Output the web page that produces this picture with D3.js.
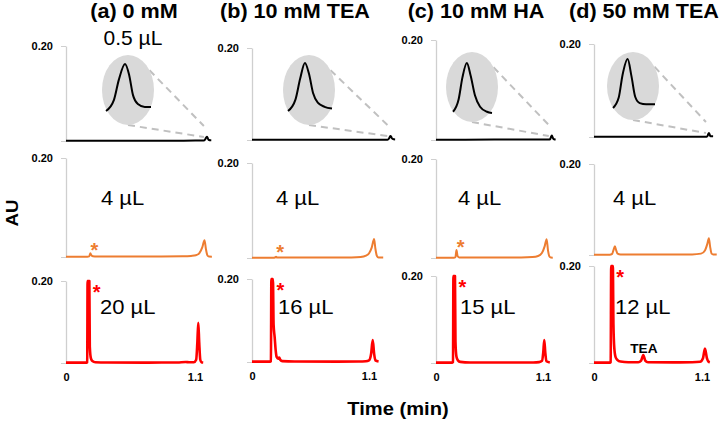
<!DOCTYPE html>
<meta charset="utf-8">
<script src="https://d3js.org/d3.v7.min.js"></script>
<style>
  body { margin: 0; background: #fff; }
  text { font-family: "Liberation Sans", Arial, sans-serif; }
</style>
<div id="chart"></div>
<script>

// ---- data (time in min, absorbance in AU) ----
var titles = ["(a) 0 mM", "(b) 10 mM TEA", "(c) 10 mM HA", "(d) 50 mM TEA"];
var topVolume = "0.5 µL";
var midVolumes = ["4 µL", "4 µL", "4 µL", "4 µL"];
var botVolumes = ["20 µL", "16 µL", "15 µL", "12 µL"];
var yTicks = [0, 0.20];
var xTicks = [0, 1.1];

// row 1: 0.5 uL injections (black)
var topA = [[0,0.0006],[0.3,0.0006],[0.6,0.0007],[0.9,0.0007],[1.1,0.0008],[1.17,0.0008],[1.1815,0.0027],[1.1885,0.0061],[1.1975,0.0088],[1.2035,0.0069],[1.209,0.0035],[1.216,0.002],[1.226,0.0015],[1.235,0.0015]];
var topB = [[0,0.0006],[0.3,0.0006],[0.6,0.0007],[0.9,0.0007],[1.1,0.0008],[1.165,0.0008],[1.176,0.0027],[1.183,0.0062],[1.19,0.0088],[1.196,0.007],[1.202,0.0038],[1.209,0.0022],[1.219,0.0015],[1.23,0.0012]];
var topC = [[0,0.0007],[0.3,0.0007],[0.6,0.0008],[0.9,0.0009],[1.1,0.001],[1.168,0.001],[1.177,0.003],[1.183,0.0065],[1.19,0.0088],[1.196,0.0068],[1.203,0.0036],[1.211,0.0018],[1.222,0.001],[1.23,0.0008]];
var topD = [[0,0.0006],[0.3,0.0006],[0.6,0.0007],[0.9,0.0007],[1.1,0.0008],[1.17,0.0008],[1.179,0.0025],[1.185,0.0062],[1.193,0.0088],[1.199,0.006],[1.205,0.0026],[1.212,0.0016],[1.222,0.0014],[1.236,0.0014]];
var insetStart = [1.17, 1.165, 1.168, 1.17];

// row 2: 4 uL injections (orange)
var midA = [[0,0.0006],[0.18,0.0006],[0.195,0.0012],[0.205,0.0075],[0.212,0.004],[0.225,0.0015],[0.26,0.0009],[0.5,0.0008],[0.8,0.0009],[0.98,0.0013],[1.05,0.0022],[1.09,0.0035],[1.12,0.008],[1.145,0.02],[1.163,0.034],[1.175,0.016],[1.188,0.003],[1.2,0.0009],[1.225,0.0007]];
var midB = [[0,0.0005],[0.2,0.0005],[0.22,0.0012],[0.23,0.0025],[0.24,0.0012],[0.27,0.0008],[0.5,0.0008],[0.8,0.0009],[0.95,0.0012],[1.04,0.0022],[1.09,0.005],[1.12,0.01],[1.145,0.022],[1.168,0.04],[1.18,0.02],[1.195,0.004],[1.21,0.001],[1.255,0.0008]];
var midC = [[0,0.0005],[0.19,0.0005],[0.205,0.0015],[0.217,0.016],[0.228,0.004],[0.245,0.0012],[0.3,0.0008],[0.6,0.0008],[0.9,0.001],[1.02,0.0018],[1.08,0.004],[1.12,0.01],[1.15,0.024],[1.17,0.038],[1.185,0.015],[1.2,0.003],[1.215,0.0009],[1.235,0.0007]];
var midD = [[0,0.0006],[0.16,0.0006],[0.185,0.0025],[0.2,0.012],[0.213,0.019],[0.225,0.011],[0.24,0.003],[0.27,0.0012],[0.5,0.0009],[0.8,0.001],[1.0,0.0012],[1.09,0.003],[1.13,0.01],[1.155,0.025],[1.17,0.037],[1.183,0.018],[1.198,0.003],[1.215,0.0012],[1.25,0.0009]];
var midStars = [0.205, 0.23, 0.217, null];

// row 3: large-volume injections (red)
var botA = [[0,0.0008],[0.175,0.0008],[0.181,0.002],[0.184,0.2],[0.199,0.2],[0.203,0.04],[0.212,0.012],[0.225,0.005],[0.25,0.002],[0.35,0.0012],[0.7,0.001],[0.95,0.0012],[1.02,0.0025],[1.05,0.0018],[1.09,0.0018],[1.11,0.008],[1.12,0.05],[1.128,0.098],[1.136,0.05],[1.145,0.008],[1.155,0.002],[1.17,0.0012]];
var botB = [[0,0.0008],[0.17,0.0008],[0.178,0.002],[0.182,0.2],[0.197,0.2],[0.203,0.09],[0.213,0.06],[0.222,0.03],[0.232,0.012],[0.245,0.008],[0.256,0.011],[0.266,0.005],[0.285,0.002],[0.4,0.0012],[0.8,0.001],[1.0,0.0012],[1.07,0.002],[1.1,0.004],[1.12,0.02],[1.135,0.053],[1.148,0.02],[1.16,0.004],[1.19,0.0012]];
var botC = [[0,0.0008],[0.168,0.0008],[0.175,0.002],[0.179,0.2],[0.195,0.2],[0.2,0.05],[0.21,0.015],[0.225,0.006],[0.25,0.0025],[0.35,0.0012],[0.7,0.001],[1.0,0.0012],[1.06,0.002],[1.09,0.005],[1.103,0.025],[1.113,0.053],[1.123,0.025],[1.135,0.004],[1.17,0.0012]];
var botD = [[0,0.0008],[0.163,0.0008],[0.17,0.002],[0.175,0.2],[0.192,0.2],[0.198,0.08],[0.207,0.03],[0.22,0.012],[0.24,0.006],[0.27,0.003],[0.35,0.0015],[0.45,0.0015],[0.48,0.005],[0.502,0.0165],[0.522,0.005],[0.55,0.0015],[0.8,0.0012],[1.0,0.0015],[1.08,0.0025],[1.11,0.01],[1.13,0.03],[1.15,0.01],[1.165,0.003],[1.18,0.0015]];
var botStars = [0.184, 0.182, 0.179, 0.175];
var teaPeak = 0.502;

var traces = [[topA, topB, topC, topD], [midA, midB, midC, midD], [botA, botB, botC, botD]];
var rowColors = ["#000000", "#ED7D31", "#FF0000"];
var rowWidths = [2, 2, 2.6];

// ---- layout ----
var W = 720, H = 423, sx = 1.1;
var colX = [66, 252, 436, 594];
// [top of axis (0.20), baseline (0)] for each panel
var rowY = [
  [[46,141],[48,140],[40,140],[44,137]],
  [[158,257],[163,258],[159,258],[164,255]],
  [[281,363],[279,362],[276,363],[266,363]]
];
var x11 = [[195.4,380,543,700],[197,367,540,702],[195,369,543,702]];
var ellipses = [
  {cx:128, cy:90, rx:26, ry:35, box:[-22,23,21,-26]},
  {cx:309, cy:90, rx:26, ry:35, box:[-21,23,21,-27]},
  {cx:472, cy:87, rx:26, ry:35, box:[-19,20,26,-24]},
  {cx:633, cy:86, rx:26, ry:34, box:[-20,22,22,-27]}
];
var titleX = [134, 295, 476, 644];
var midLabelX = [101, 276, 458, 613];
var botLabelX = [100, 278, 460, 615];

var svg = d3.select("#chart").append("svg")
  .attr("width", W).attr("height", H);

// text helper, glyphs are a bit wider than normal in the original
function label(x, y, str, size, weight, anchor, color, scale) {
  return svg.append("text")
    .attr("transform", "translate(" + x + "," + y + ") scale(" + (scale || sx) + ",1)")
    .attr("text-anchor", anchor || "start")
    .style("font-size", size + "px")
    .style("font-weight", weight || "normal")
    .style("fill", color || "#000")
    .text(str);
}

function valueAt(data, t) {
  var best = data[0];
  data.forEach(function(p) { if (Math.abs(p[0] - t) < Math.abs(best[0] - t)) best = p; });
  return best[1];
}

for (var r = 0; r < 3; r++) {
  for (var c = 0; c < 4; c++) {
    var data = traces[r][c];
    var yTop = rowY[r][c][0], yBase = rowY[r][c][1];
    var x = d3.scaleLinear().domain([0, 1.1]).range([colX[c], x11[r][c]]);
    var y = d3.scaleLinear().domain([0, 0.2]).range([yBase, yTop]);

    // y axis
    var ya = svg.append("g")
      .attr("transform", "translate(" + colX[c] + ",0)")
      .call(d3.axisLeft(y).tickValues(yTicks).tickSize(5).tickSizeOuter(0).tickPadding(8)
        .tickFormat(function(d) { return d > 0 ? d3.format(".2f")(d) : ""; }));
    ya.select(".domain").attr("stroke", "#cfcfcf").attr("stroke-width", 1.3);
    ya.selectAll(".tick line").attr("stroke", "#cfcfcf");
    ya.selectAll("text").style("font-size", "11px").style("font-weight", "bold")
      .style("font-family", "'Liberation Sans', Arial, sans-serif").attr("fill", "#000");

    // x tick labels on the bottom row only
    if (r === 2) {
      var xa = svg.append("g")
        .attr("transform", "translate(0," + yBase + ")")
        .call(d3.axisBottom(x).tickValues(xTicks).tickSize(0).tickPadding(10)
          .tickFormat(function(d) { return d === 0 ? "0" : d3.format(".1f")(d); }));
      xa.select(".domain").remove();
      xa.selectAll("text").style("font-size", "11px").style("font-weight", "bold")
        .style("font-family", "'Liberation Sans', Arial, sans-serif").attr("fill", "#000");
    }

    // trace
    svg.append("path")
      .datum(data)
      .attr("fill", "none")
      .attr("stroke", rowColors[r])
      .attr("stroke-width", rowWidths[r])
      .attr("stroke-linejoin", "round")
      .attr("d", d3.line().curve(d3.curveMonotoneX)
        .x(function(d) { return x(d[0]); })
        .y(function(d) { return y(d[1]); }));

    // zoomed inset of the small peak on the top row
    if (r === 0) {
      var e = ellipses[c];
      var sub = data.filter(function(d) { return d[0] >= insetStart[c]; });
      var pk = sub.reduce(function(a, b) { return b[1] > a[1] ? b : a; });
      var px = x(pk[0]);
      var ux = e.cx + e.rx * Math.cos(-0.6), uy = e.cy + e.ry * Math.sin(-0.6);
      svg.append("line").attr("x1", ux).attr("y1", uy).attr("x2", px - 3).attr("y2", yBase - 15)
        .attr("stroke", "#c0c0c0").attr("stroke-width", 2).attr("stroke-dasharray", "7,5");
      svg.append("line").attr("x1", e.cx).attr("y1", e.cy + e.ry).attr("x2", px - 3).attr("y2", yBase - 4)
        .attr("stroke", "#c0c0c0").attr("stroke-width", 2).attr("stroke-dasharray", "7,5");
      svg.append("ellipse").attr("cx", e.cx).attr("cy", e.cy).attr("rx", e.rx).attr("ry", e.ry)
        .attr("fill", "#d9d9d9");
      var ix = d3.scaleLinear().domain(d3.extent(sub, function(d) { return d[0]; }))
        .range([e.cx + e.box[0], e.cx + e.box[1]]);
      var iy = d3.scaleLinear().domain(d3.extent(sub, function(d) { return d[1]; }))
        .range([e.cy + e.box[2], e.cy + e.box[3]]);
      svg.append("path")
        .datum(sub)
        .attr("fill", "none").attr("stroke", "#000").attr("stroke-width", 2)
        .attr("d", d3.line().curve(d3.curveMonotoneX)
          .x(function(d) { return ix(d[0]); })
          .y(function(d) { return iy(d[1]); }));
    }

    // asterisks
    if (r === 1 && midStars[c] !== null) {
      var sv = valueAt(data, midStars[c]);
      label(x(midStars[c]) + 4, Math.min(y(sv) - 7, yBase - 10) + 11, "*", 20, "bold", "middle", rowColors[1], 1);
    }
    if (r === 2) {
      label(x(botStars[c]) + 9, yTop + 7 + 11, "*", 20, "bold", "middle", rowColors[2], 1);
    }
    if (r === 2 && c === 3) {
      label(x(teaPeak) - 13, 353, "TEA", 13, "bold", "start", "#000", 1.05);
    }
  }
}

// titles and volume labels
titles.forEach(function(t, i) { label(titleX[i], 18, t, 20, "bold", "middle", "#000", 1.08); });
label(133, 45, topVolume, 20, "normal", "middle", "#000", 1.05);
midVolumes.forEach(function(t, i) { label(midLabelX[i], 205, t, 20); });
botVolumes.forEach(function(t, i) { label(botLabelX[i], 314, t, 20); });

// axis titles
svg.append("text")
  .attr("transform", "translate(18,213) rotate(-90) scale(1.1,1)")
  .attr("text-anchor", "middle")
  .style("font-size", "17px").style("font-weight", "bold")
  .text("AU");
label(398, 415, "Time (min)", 19, "bold", "middle", "#000", 1.06);

</script>
